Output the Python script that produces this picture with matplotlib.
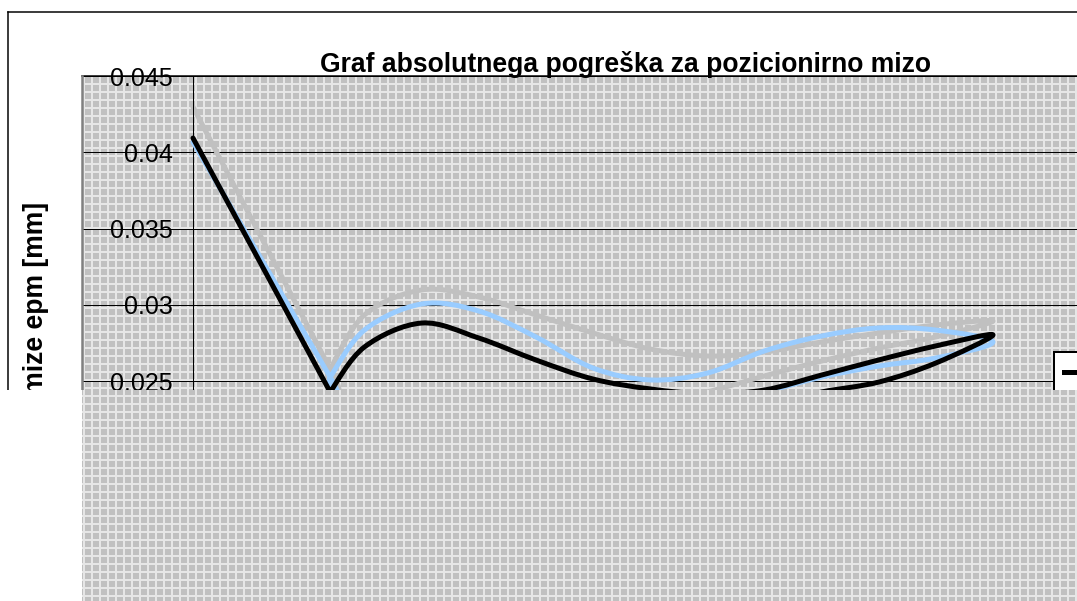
import numpy as np
import matplotlib
matplotlib.use("Agg")
import matplotlib.pyplot as plt
from matplotlib.path import Path
from matplotlib.patches import PathPatch, Rectangle
from matplotlib.lines import Line2D
from matplotlib.ticker import FuncFormatter

# %% data (position [mm], absolute error [mm])
# each run goes forward to 700 and back again

pos_black = [0, 120, 120, 150, 200, 250, 300, 350, 400, 450, 500, 550, 600, 650, 700,
             650, 600, 550, 500, 450]
err_black = [0.04093, 0.02428, 0.02428, 0.02723, 0.02880, 0.02782, 0.02638, 0.02513,
             0.02448, 0.02415, 0.02441, 0.02539, 0.02638, 0.02730, 0.02802,
             0.02618, 0.02493, 0.02428, 0.02343, 0.02297]

pos_blue = [0, 120, 120, 150, 200, 250, 300, 350, 400, 450, 500, 550, 600, 650, 700,
            650, 600, 550, 500, 450]
err_blue = [0.04067, 0.02526, 0.02526, 0.02834, 0.03005, 0.02959, 0.02789, 0.02585,
            0.02507, 0.02552, 0.02697, 0.02795, 0.02848, 0.02834, 0.02756,
            0.02651, 0.02598, 0.02526, 0.02428, 0.02343]

pos_gray = [0, 120, 120, 150, 200, 250, 300, 350, 400, 450, 500, 550, 600, 650, 700,
            650, 600, 550, 500, 450, 400]
err_gray = [0.04297, 0.02579, 0.02579, 0.02933, 0.03097, 0.03051, 0.02933, 0.02815,
            0.02710, 0.02664, 0.02690, 0.02756, 0.02815, 0.02867, 0.02893,
            0.02789, 0.02716, 0.02631, 0.02533, 0.02428, 0.02343]

y_ticks = [0.025, 0.03, 0.035, 0.04, 0.045]

title = "Graf absolutnega pogreška za pozicionirno mizo"
y_label = "pozicionirne mize epm [mm]"

# %% figure setup
W, H, DPI = 1077, 601, 96


def pt(px):
    return px * 72.0 / DPI


plt.rcParams["font.family"] = "Liberation Sans"
plt.rcParams["hatch.linewidth"] = pt(2)

c_black = "black"
c_blue = "#99ccff"
c_gray = "#c0c0c0"
c_back = "#c0c0c0"
c_hatch = "#e6e6e6"


def smooth_path(x, y):
    """Excel-like smoothed line: cubic Bezier through every point"""
    p = np.column_stack([x, y]).astype(float)
    n = len(p)
    verts = [p[0]]
    codes = [Path.MOVETO]
    for i in range(n - 1):
        p0 = p[max(i - 1, 0)]
        p1 = p[i]
        p2 = p[i + 1]
        p3 = p[min(i + 2, n - 1)]
        verts += [p1 + (p2 - p0) / 6, p2 - (p3 - p1) / 6, p2]
        codes += [Path.CURVE4] * 3
    return Path(verts, codes)


fig = plt.figure(figsize=(W / DPI, H / DPI), dpi=DPI)
fig.patch.set_facecolor("white")

ax = fig.add_axes([82 / W, 0, 995 / W, 525 / H])
ax.set_xlim(-97.125, 773.5)
ax.set_ylim(0.010574, 0.045)
ax.set_facecolor(c_back)
ax.add_patch(Rectangle((0, 0), 1, 1, transform=ax.transAxes, facecolor=c_back,
                       edgecolor=c_hatch, lw=0, hatch="++", zorder=0.1))

ax.set_yticks(y_ticks)
ax.yaxis.set_major_formatter(FuncFormatter(lambda v, _: "{:g}".format(v)))
ax.set_axisbelow(True)
ax.yaxis.grid(True, color="black", lw=pt(1))
ax.set_xticks([])
ax.tick_params(axis="y", length=pt(5), width=pt(1), direction="out",
               pad=pt(15), labelsize=pt(25), colors="black")

ax.spines["left"].set_position(("data", 0))
ax.spines["left"].set_linewidth(pt(1))
ax.spines["top"].set_linewidth(pt(1.5))
ax.spines["right"].set_visible(False)
ax.spines["bottom"].set_visible(False)
# plot area border on the left
ax.plot([0, 0], [0, 1], transform=ax.transAxes, color="#808080", lw=pt(2.5),
        clip_on=False, zorder=5)

for xs, ys, col, z in [(pos_gray, err_gray, c_gray, 2),
                       (pos_blue, err_blue, c_blue, 3),
                       (pos_black, err_black, c_black, 4)]:
    ax.add_patch(PathPatch(smooth_path(xs, ys), facecolor="none", edgecolor=col,
                           lw=pt(5), capstyle="round", joinstyle="round", zorder=z))

# legend: only its left edge and the first line sample fit in the picture
handles = [Line2D([], [], color=c, lw=pt(5)) for c in (c_black, c_blue, c_gray)]
leg = ax.legend(handles, [" ", " ", " "], loc="upper left",
                bbox_to_anchor=(1054 / W, 1 - 352 / H), bbox_transform=fig.transFigure,
                borderaxespad=0, fontsize=pt(25), fancybox=False, framealpha=1,
                edgecolor="black", borderpad=0.4)
leg.get_frame().set_linewidth(pt(2))

fig.text(626 / W, 1 - 72 / H, title, ha="center", va="baseline",
         fontsize=pt(26.5), fontweight="bold")
fig.text(36 / W, 1 - 202 / H, y_label, rotation=90, ha="center", va="top",
         fontsize=pt(26.5), fontweight="bold")

# chart area border
fig.add_artist(Line2D([8 / W, 1.0], [1 - 12 / H, 1 - 12 / H], color="black", lw=pt(1.5)))
fig.add_artist(Line2D([8 / W, 8 / W], [1 - 12 / H, 0], color="black", lw=pt(1.5)))

# lower part of the picture only shows the plot area fill
fig.add_artist(Rectangle((0, 0), 82 / W, 211 / H, facecolor="white",
                         edgecolor="none", zorder=10))
cover = fig.add_axes([82 / W, 0, 995 / W, 211 / H])
cover.set_zorder(5)
cover.axis("off")
cover.add_patch(Rectangle((0, 0), 1, 1, transform=cover.transAxes, facecolor=c_back,
                          edgecolor=c_hatch, lw=0, hatch="++"))

fig.savefig("out.png", dpi=DPI)
